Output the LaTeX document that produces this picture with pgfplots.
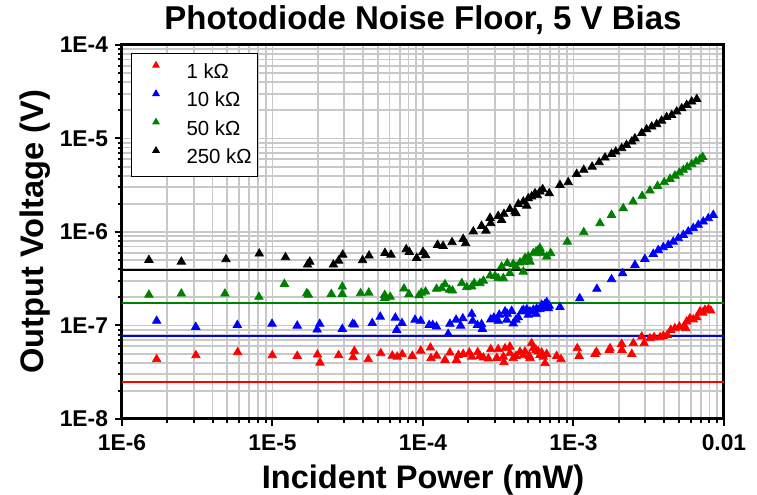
\documentclass[border=0pt]{standalone}
\usepackage{fontspec}
\setmainfont{Liberation Sans}
\usepackage{pgfplots}
\pgfplotsset{compat=1.18}
\definecolor{gridgray}{RGB}{200,200,200}
\definecolor{dgreen}{RGB}{0,128,0}
\begin{document}
\begin{tikzpicture}
\begin{axis}[
  scale only axis, width=301pt, height=187pt,
  xmode=log, ymode=log,
  xmin=1e-6, xmax=1e-2, ymin=1e-8, ymax=1e-4,
  xtick={1e-6,1e-5,1e-4,1e-3,1e-2},
  xticklabels={1E-6,1E-5,1E-4,1E-3,0.01},
  ytick={1e-8,1e-7,1e-6,1e-5,1e-4},
  yticklabels={1E-8,1E-7,1E-6,1E-5,1E-4},
  minor xtick={2e-6,3e-6,4e-6,5e-6,6e-6,7e-6,8e-6,9e-6,2e-5,3e-5,4e-5,5e-5,6e-5,7e-5,8e-5,9e-5,2e-4,3e-4,4e-4,5e-4,6e-4,7e-4,8e-4,9e-4,2e-3,3e-3,4e-3,5e-3,6e-3,7e-3,8e-3,9e-3},
  minor ytick={2e-8,3e-8,4e-8,5e-8,6e-8,7e-8,8e-8,9e-8,2e-7,3e-7,4e-7,5e-7,6e-7,7e-7,8e-7,9e-7,2e-6,3e-6,4e-6,5e-6,6e-6,7e-6,8e-6,9e-6,2e-5,3e-5,4e-5,5e-5,6e-5,7e-5,8e-5,9e-5},
  xmajorgrids, ymajorgrids, xminorgrids, yminorgrids,
  major grid style={gridgray, line width=0.9pt},
  minor grid style={gridgray, line width=0.9pt},
  axis line style={line width=1.5pt},
  tick pos=left, tick align=outside,
  major tick length=3.5pt, minor tick length=2pt,
  every tick/.style={black, line width=1pt},
  ticklabel style={font=\fontsize{11.4}{13}\selectfont\bfseries},
  xticklabel style={yshift=-1pt},
  label style={font=\fontsize{16.3}{19}\selectfont\bfseries},
  ylabel style={yshift=-2pt},
  title style={font=\fontsize{16.5}{19}\selectfont\bfseries, yshift=-4.5pt},
  title={Photodiode Noise Floor, 5 V Bias},
  xlabel={Incident Power (mW)},
  ylabel={Output Voltage (V)},
  legend style={at={(0.015,0.979)}, anchor=north west, draw=black, line width=0.5pt,
    font=\fontsize{10.2}{12}\selectfont, inner xsep=2pt, inner ysep=3.5pt, row sep=2.2pt,
    nodes={inner sep=1pt, text height=8pt, text depth=2pt}},
  legend cell align=left,
  legend image code/.code={\path (-10pt,0pt) (14pt,0pt); \draw[#1, mark size=1.8pt] plot coordinates {(0pt,3.5pt)};},
]
% noise floor lines
\addplot[red, line width=0.9pt, forget plot] coordinates {(1e-6,2.47e-8) (1e-2,2.47e-8)};
\addplot[blue, line width=0.9pt, forget plot] coordinates {(1e-6,7.73e-8) (1e-2,7.73e-8)};
\addplot[dgreen, line width=0.9pt, forget plot] coordinates {(1e-6,1.74e-7) (1e-2,1.74e-7)};
\addplot[black, line width=0.9pt, forget plot] coordinates {(1e-6,3.92e-7) (1e-2,3.92e-7)};
% 1 kOhm
\addplot[only marks, mark=triangle*, mark size=2.4pt, red, mark options={draw=red, fill=red}] coordinates {
(1.70e-6,4.35e-8)(3.10e-6,4.80e-8)(5.87e-6,5.17e-8)(9.97e-6,4.80e-8)(1.46e-5,4.72e-8)(1.99e-5,4.88e-8)(2.07e-5,4.00e-8)(2.75e-5,4.80e-8)(3.43e-5,4.57e-8)(3.50e-5,5.33e-8)(4.33e-5,4.35e-8)(5.24e-5,5.04e-8)(6.25e-5,4.75e-8)(6.75e-5,4.63e-8)(7.28e-5,4.92e-8)(8.49e-5,4.72e-8)(9.66e-5,5.37e-8)(1.12e-4,5.79e-8)(1.13e-4,4.46e-8)(1.23e-4,4.75e-8)(1.40e-4,4.28e-8)(1.51e-4,5.12e-8)(1.67e-4,4.28e-8)(1.72e-4,4.83e-8)(1.85e-4,4.95e-8)(2.03e-4,5.12e-8)(2.11e-4,4.63e-8)(2.31e-4,5.17e-8)(2.39e-4,4.72e-8)(2.52e-4,4.53e-8)(2.72e-4,4.42e-8)(2.82e-4,5.56e-8)(3.09e-4,4.49e-8)(3.16e-4,5.56e-8)(3.42e-4,4.63e-8)(3.45e-4,4.04e-8)(3.51e-4,5.70e-8)(3.78e-4,5.93e-8)(3.78e-4,5.04e-8)(3.98e-4,4.46e-8)(4.15e-4,4.72e-8)(4.41e-4,5.21e-8)(4.64e-4,4.80e-8)(4.76e-4,5.25e-8)(5.09e-4,4.72e-8)(5.14e-4,4.46e-8)(5.27e-4,6.45e-8)(5.41e-4,5.70e-8)(5.64e-4,5.47e-8)(5.83e-4,5.25e-8)(5.99e-4,4.83e-8)(6.15e-4,5.12e-8)(6.30e-4,4.63e-8)(6.47e-4,3.94e-8)(6.64e-4,4.95e-8)(7.73e-4,4.72e-8)(8.26e-4,4.35e-8)(1.06e-3,5.70e-8)(1.09e-3,4.72e-8)(1.39e-3,4.95e-8)(1.42e-3,5.21e-8)(1.73e-3,5.47e-8)(1.75e-3,5.70e-8)(2.09e-3,6.34e-8)(2.10e-3,5.47e-8)(2.44e-3,4.95e-8)(2.50e-3,6.45e-8)(2.84e-3,7.59e-8)(2.95e-3,6.45e-8)(3.22e-3,7.29e-8)(3.43e-3,7.48e-8)(3.76e-3,7.48e-8)(3.95e-3,7.73e-8)(4.20e-3,7.91e-8)(4.43e-3,8.95e-8)(4.72e-3,9.33e-8)(5.05e-3,9.71e-8)(5.37e-3,9.57e-8)(5.58e-3,9.33e-8)(5.65e-3,1.10e-7)(5.94e-3,1.19e-7)(6.25e-3,1.16e-7)(6.59e-3,1.22e-7)(6.93e-3,1.41e-7)(7.21e-3,1.37e-7)(7.48e-3,1.47e-7)(7.87e-3,1.49e-7)(8.17e-3,1.44e-7)
};
\addlegendentry{1 kΩ}
% 10 kOhm
\addplot[only marks, mark=triangle*, mark size=2.4pt, blue, mark options={draw=blue, fill=blue}] coordinates {
(1.70e-6,1.12e-7)(3.09e-6,9.64e-8)(5.84e-6,1.01e-7)(9.93e-6,1.04e-7)(1.46e-5,9.95e-8)(1.98e-5,9.02e-8)(2.06e-5,1.04e-7)(2.91e-5,9.18e-8)(3.41e-5,1.04e-7)(3.50e-5,1.02e-7)(4.60e-5,1.06e-7)(5.20e-5,1.24e-7)(6.55e-5,1.21e-7)(6.69e-5,8.95e-8)(7.25e-5,1.06e-7)(8.85e-5,1.15e-7)(9.66e-5,1.12e-7)(1.10e-4,1.01e-7)(1.16e-4,1.01e-7)(1.23e-4,9.71e-8)(1.47e-4,8.11e-8)(1.51e-4,1.04e-7)(1.66e-4,1.15e-7)(1.78e-4,9.95e-8)(1.84e-4,1.19e-7)(2.11e-4,1.33e-7)(2.14e-4,1.12e-7)(2.30e-4,1.01e-7)(2.45e-4,1.03e-7)(2.48e-4,9.18e-8)(2.82e-4,1.16e-7)(2.96e-4,1.21e-7)(3.16e-4,1.12e-7)(3.21e-4,1.30e-7)(3.51e-4,1.41e-7)(3.60e-4,1.15e-7)(3.63e-4,1.33e-7)(3.88e-4,1.43e-7)(3.98e-4,1.05e-7)(4.15e-4,1.15e-7)(4.30e-4,1.22e-7)(4.53e-4,1.41e-7)(4.64e-4,1.47e-7)(4.89e-4,1.49e-7)(5.01e-4,1.30e-7)(5.14e-4,1.41e-7)(5.41e-4,1.47e-7)(5.64e-4,1.33e-7)(5.69e-4,1.51e-7)(5.99e-4,1.49e-7)(6.15e-4,1.66e-7)(6.30e-4,1.57e-7)(6.47e-4,1.70e-7)(6.64e-4,1.77e-7)(6.81e-4,1.53e-7)(6.90e-4,1.62e-7)(8.13e-4,1.57e-7)(1.10e-3,1.95e-7)(1.43e-3,2.46e-7)(1.79e-3,3.12e-7)(2.12e-3,3.61e-7)(2.56e-3,4.44e-7)(2.98e-3,5.14e-7)(3.39e-3,5.82e-7)(3.66e-3,6.41e-7)(3.95e-3,6.86e-7)(4.27e-3,7.26e-7)(4.60e-3,7.87e-7)(4.97e-3,8.57e-7)(5.37e-3,9.29e-7)(5.79e-3,1.01e-6)(6.25e-3,1.10e-6)(6.75e-3,1.19e-6)(7.28e-3,1.29e-6)(7.87e-3,1.40e-6)(8.49e-3,1.52e-6)
};
\addlegendentry{10 kΩ}
% 50 kOhm
\addplot[only marks, mark=triangle*, mark size=2.4pt, dgreen, mark options={draw=dgreen, fill=dgreen}] coordinates {
(1.51e-6,2.13e-7)(2.48e-6,2.19e-7)(4.83e-6,2.19e-7)(8.13e-6,2.02e-7)(1.20e-5,2.78e-7)(1.69e-5,2.21e-7)(1.73e-5,2.13e-7)(2.46e-5,2.17e-7)(2.91e-5,2.60e-7)(2.91e-5,2.17e-7)(3.85e-5,2.21e-7)(4.36e-5,2.24e-7)(5.57e-5,2.12e-7)(5.57e-5,1.97e-7)(6.06e-5,2.02e-7)(7.48e-5,2.48e-7)(8.07e-5,2.16e-7)(9.40e-5,2.10e-7)(9.75e-5,2.24e-7)(1.04e-4,2.30e-7)(1.23e-4,2.46e-7)(1.33e-4,2.50e-7)(1.40e-4,2.76e-7)(1.50e-4,2.40e-7)(1.57e-4,2.36e-7)(1.81e-4,2.83e-7)(1.95e-4,2.56e-7)(2.11e-4,2.60e-7)(2.19e-4,2.83e-7)(2.39e-4,2.83e-7)(2.52e-4,3.01e-7)(2.79e-4,3.41e-7)(3.01e-4,3.38e-7)(3.16e-4,3.20e-7)(3.33e-4,4.26e-7)(3.42e-4,3.20e-7)(3.63e-4,4.62e-7)(3.78e-4,3.61e-7)(3.98e-4,4.55e-7)(4.15e-4,4.26e-7)(4.41e-4,4.70e-7)(4.64e-4,4.81e-7)(4.64e-4,3.76e-7)(4.76e-4,5.24e-7)(5.01e-4,5.45e-7)(5.14e-4,4.81e-7)(5.41e-4,5.92e-7)(5.64e-4,6.15e-7)(5.83e-4,6.41e-7)(5.99e-4,6.70e-7)(6.15e-4,5.92e-7)(6.64e-4,5.45e-7)(7.05e-4,5.92e-7)(9.10e-4,7.87e-7)(1.17e-3,9.93e-7)(1.50e-3,1.24e-6)(1.79e-3,1.52e-6)(2.14e-3,1.79e-6)(2.49e-3,2.11e-6)(2.86e-3,2.43e-6)(3.22e-3,2.77e-6)(3.62e-3,3.10e-6)(4.01e-3,3.40e-6)(4.38e-3,3.69e-6)(4.72e-3,4.00e-6)(5.05e-3,4.31e-6)(5.37e-3,4.61e-6)(5.70e-3,4.92e-6)(6.10e-3,5.30e-6)(6.52e-3,5.65e-6)(6.93e-3,6.00e-6)(7.21e-3,6.34e-6)
};
\addlegendentry{50 kΩ}
% 250 kOhm
\addplot[only marks, mark=triangle*, mark size=2.4pt, black, mark options={draw=black, fill=black}] coordinates {
(1.51e-6,5.02e-7)(2.48e-6,4.81e-7)(4.91e-6,5.10e-7)(8.17e-6,5.86e-7)(1.22e-5,5.36e-7)(1.71e-5,4.47e-7)(1.77e-5,4.81e-7)(2.54e-5,4.47e-7)(2.75e-5,4.93e-7)(2.93e-5,5.71e-7)(3.97e-5,4.98e-7)(4.38e-5,5.58e-7)(5.59e-5,5.96e-7)(6.13e-5,5.71e-7)(7.74e-5,6.53e-7)(8.11e-5,6.11e-7)(9.08e-5,5.27e-7)(1.00e-4,6.11e-7)(1.04e-4,5.64e-7)(1.25e-4,7.26e-7)(1.36e-4,7.08e-7)(1.56e-4,7.76e-7)(1.85e-4,8.41e-7)(1.92e-4,7.57e-7)(2.16e-4,1.01e-6)(2.45e-4,1.16e-6)(2.62e-4,1.03e-6)(2.79e-4,1.41e-6)(2.82e-4,1.24e-6)(3.16e-4,1.48e-6)(3.33e-4,1.34e-6)(3.45e-4,1.56e-6)(3.78e-4,1.76e-6)(4.08e-4,1.65e-6)(4.15e-4,1.58e-6)(4.30e-4,1.99e-6)(4.64e-4,2.11e-6)(4.89e-4,1.91e-6)(5.01e-4,2.29e-6)(5.27e-4,2.39e-6)(5.55e-4,2.59e-6)(5.75e-4,2.47e-6)(5.99e-4,2.70e-6)(6.24e-4,2.86e-6)(6.90e-4,2.59e-6)(8.13e-4,3.18e-6)(9.23e-4,3.40e-6)(1.05e-3,4.17e-6)(1.17e-3,4.61e-6)(1.33e-3,4.99e-6)(1.48e-3,5.56e-6)(1.62e-3,6.24e-6)(1.79e-3,6.83e-6)(1.91e-3,7.23e-6)(2.09e-3,7.85e-6)(2.25e-3,8.51e-6)(2.44e-3,9.25e-6)(2.56e-3,1.00e-5)(2.84e-3,1.14e-5)(3.06e-3,1.25e-5)(3.31e-3,1.34e-5)(3.57e-3,1.42e-5)(3.85e-3,1.55e-5)(4.16e-3,1.69e-5)(4.49e-3,1.78e-5)(4.85e-3,1.94e-5)(5.24e-3,2.10e-5)(5.65e-3,2.28e-5)(6.10e-3,2.48e-5)(6.59e-3,2.64e-5)
};
\addlegendentry{250 kΩ}
\end{axis}
\pgfresetboundingbox
\path ([xshift=-61pt,yshift=-38pt]current axis.south west) rectangle ([xshift=16.5pt,yshift=22.5pt]current axis.north east);
\end{tikzpicture}
\end{document}
